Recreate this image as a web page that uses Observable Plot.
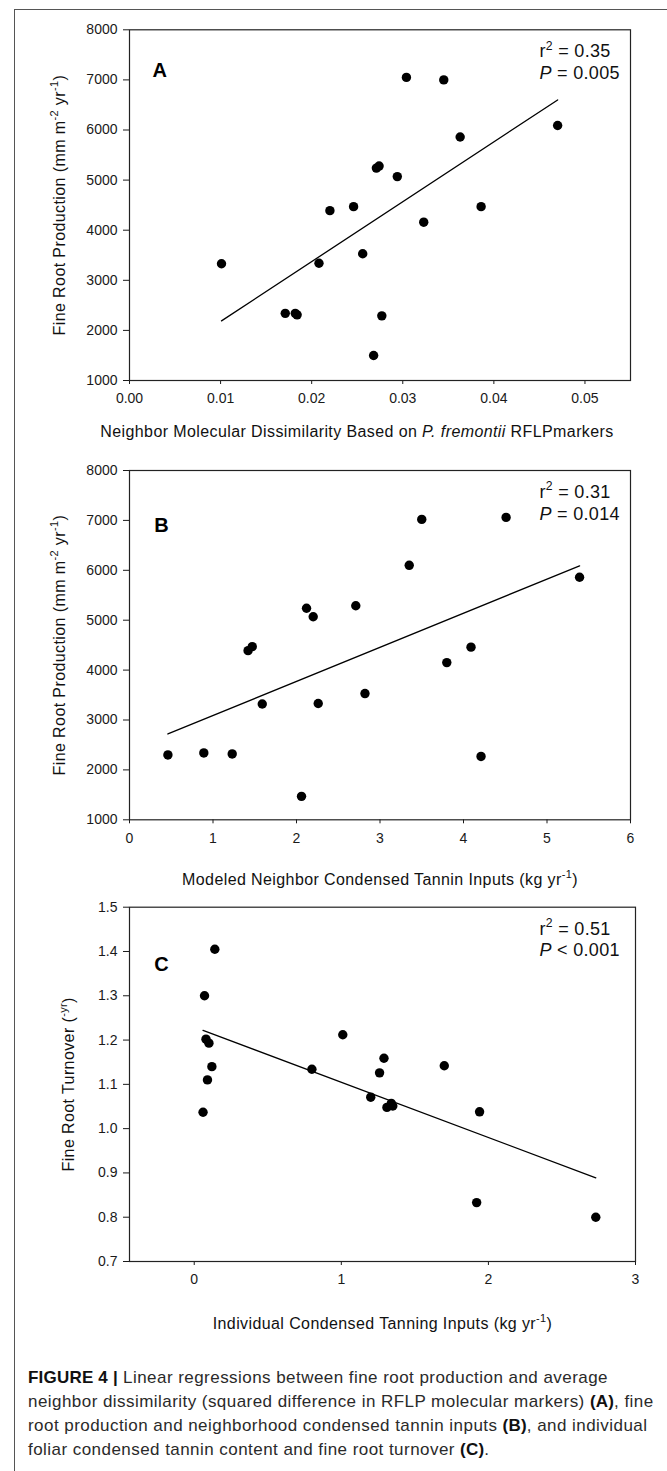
<!DOCTYPE html>
<html>
<head>
<meta charset="utf-8">
<script src="https://cdn.jsdelivr.net/npm/d3@7"></script>
<script src="https://cdn.jsdelivr.net/npm/@observablehq/plot@0.6"></script>
<style>
  body { margin: 0; background: #fff; font-family: "Liberation Sans", Arial, sans-serif; }
  #page { position: relative; width: 667px; height: 1471px; overflow: hidden; background: #fff; }
  #border { position: absolute; left: 14px; top: 9px; width: 720px; height: 1520px;
            border-left: 1.5px solid #555; border-top: 1.5px solid #555; }
  .panel { position: absolute; left: 0; }
  .panel svg { display: block; overflow: visible; }
  #caption { position: absolute; left: 28px; top: 1366px; font-size: 17px; line-height: 24px;
             letter-spacing: 0.45px; color: #2a2a2a; white-space: nowrap; }
  #caption b { color: #111; letter-spacing: 0.2px; }
</style>
</head>
<body>
<div id="page">
  <div id="border"></div>
  <div id="pA" class="panel" style="top:0px"></div>
  <div id="pB" class="panel" style="top:450px"></div>
  <div id="pC" class="panel" style="top:895px"></div>
  <div id="caption">
    <b>FIGURE 4 |</b> Linear regressions between fine root production and average<br>
    neighbor dissimilarity (squared difference in RFLP molecular markers) <b>(A)</b>, fine<br>
    root production and neighborhood condensed tannin inputs <b>(B)</b>, and individual<br>
    foliar condensed tannin content and fine root turnover <b>(C)</b>.
  </div>
</div>
<script>
// ---------------- DATA ----------------
// Panel A: neighbor molecular dissimilarity vs fine root production
const dissimA = [0.0304, 0.0345, 0.0470, 0.0363, 0.0271, 0.0274, 0.0294, 0.0220, 0.0246, 0.0323,
                 0.0386, 0.0101, 0.0208, 0.0256, 0.0171, 0.0182, 0.0184, 0.0277, 0.0268];
const prodA   = [7050, 7000, 6090, 5860, 5240, 5280, 5070, 4390, 4470, 4160,
                 4470, 3330, 3340, 3530, 2340, 2340, 2310, 2290, 1500];
const fitA_x = [0.0101, 0.047];
const fitA_y = [2190, 6600];
const ticksA_x = [0, 0.01, 0.02, 0.03, 0.04, 0.05];
const ticksA_y = [1000, 2000, 3000, 4000, 5000, 6000, 7000, 8000];
const statsA = ["0.35", "0.005"];

// Panel B: modeled neighbor condensed tannin inputs vs fine root production
const tanninB = [1.42, 1.47, 1.59, 2.12, 2.20, 2.26, 2.71, 2.82, 3.35, 3.50,
                 4.51, 5.39, 3.80, 4.09, 0.46, 0.89, 1.23, 2.06, 4.21];
const prodB   = [4390, 4470, 3320, 5240, 5070, 3330, 5290, 3530, 6100, 7020,
                 7060, 5860, 4150, 4460, 2300, 2340, 2320, 1470, 2270];
const fitB_x = [0.46, 5.39];
const fitB_y = [2720, 6090];
const ticksB_x = [0, 1, 2, 3, 4, 5, 6];
const ticksB_y = [1000, 2000, 3000, 4000, 5000, 6000, 7000, 8000];
const statsB = ["0.31", "0.014"];

// Panel C: individual condensed tannin inputs vs fine root turnover
const tanninC = [0.14, 0.07, 0.08, 0.10, 0.12, 0.09, 0.06, 0.80, 1.01, 1.20,
                 1.26, 1.29, 1.31, 1.34, 1.35, 1.70, 1.94, 1.92, 2.73];
const turnC   = [1.405, 1.300, 1.202, 1.193, 1.140, 1.110, 1.037, 1.134, 1.212, 1.071,
                 1.126, 1.159, 1.048, 1.057, 1.051, 1.142, 1.038, 0.833, 0.800];
const fitC_x = [0.06, 2.73];
const fitC_y = [1.222, 0.889];
const ticksC_x = [0, 1, 2, 3];
const ticksC_y = [0.7, 0.8, 0.9, 1.0, 1.1, 1.2, 1.3, 1.4, 1.5];
const statsC = ["0.51", "< 0.001"];

// ---------------- RICH TEXT ----------------
function setRich(el, spec) {
  const segs = spec.segs;
  const fs = parseFloat(el.getAttribute("font-size") || el.parentNode.getAttribute("font-size") || 14);
  while (el.firstChild) el.removeChild(el.firstChild);
  if (spec.ls) el.setAttribute("letter-spacing", spec.ls);
  let shift = 0;
  for (const s of segs) {
    const t = document.createElementNS("http://www.w3.org/2000/svg", "tspan");
    const target = s.sup ? -0.42 * fs : 0;
    if (target !== shift) { t.setAttribute("dy", target - shift); shift = target; }
    if (s.sup) t.setAttribute("font-size", 0.68 * fs);
    if (s.it) t.setAttribute("font-style", "italic");
    if (s.b) t.setAttribute("font-weight", "bold");
    t.textContent = s.t;
    el.appendChild(t);
  }
}
function applyRich(svg, map) {
  svg.querySelectorAll("text").forEach(el => {
    const k = el.textContent;
    if (map[k]) setRich(el, map[k]);
  });
}

const FONT = "Liberation Sans, Arial, sans-serif";

function panel(o) {
  const pts = o.xs.map((x, i) => ({x, y: o.ys[i]}));
  const fit = o.fx.map((x, i) => ({x, y: o.fy[i]}));
  const keyX = "XLABEL", keyY = "YLABEL", keyR = "R2LABEL", keyP = "PLABEL";
  const svg = Plot.plot({
    width: 667,
    height: o.height,
    marginTop: o.mt, marginBottom: o.mb, marginLeft: 129, marginRight: o.mr,
    style: {fontFamily: FONT, background: "transparent", color: "#1a1a1a", overflow: "visible"},
    x: {domain: o.xDomain},
    y: {domain: o.yDomain},
    marks: [
      Plot.axisX({ticks: o.xTicks, tickFormat: o.xFmt, tickSize: 4, tickPadding: 9, fontSize: 14, label: null}),
      Plot.axisY({ticks: o.yTicks, tickFormat: o.yFmt, tickSize: 6, tickPadding: 6, fontSize: 14, label: null}),
      Plot.frame({stroke: "#222", strokeWidth: 1.2}),
      Plot.line(fit, {x: "x", y: "y", stroke: "#000", strokeWidth: 1.3}),
      Plot.dot(pts, {x: "x", y: "y", r: 4.7, fill: "#000", stroke: "none"}),
      Plot.text([o.letter], {text: d => d, frameAnchor: "top-left", dx: o.letterDx, dy: o.letterDy,
        textAnchor: "start", lineAnchor: "bottom", fontSize: 20, fontWeight: "bold", fill: "#000"}),
      Plot.text([keyR], {text: d => d, frameAnchor: "top-left", dx: 410, dy: 27.4,
        textAnchor: "start", lineAnchor: "bottom", fontSize: 18, fill: "#111"}),
      Plot.text([keyP], {text: d => d, frameAnchor: "top-left", dx: 410, dy: 49,
        textAnchor: "start", lineAnchor: "bottom", fontSize: 18, fill: "#111"}),
      Plot.text([keyX], {text: d => d, frameAnchor: "bottom", dx: o.xlDx, dy: o.xlDy,
        textAnchor: "middle", lineAnchor: "bottom", fontSize: 16, fill: "#111"}),
      Plot.text([keyY], {text: d => d, frameAnchor: "left", dx: o.ylDx, rotate: -90,
        textAnchor: "middle", lineAnchor: "bottom", fontSize: 16, fill: "#111"})
    ]
  });
  const map = {};
  map[keyX] = {segs: o.xlabel, ls: 0.4};
  map[keyY] = {segs: o.ylabel, ls: 0.4};
  map[keyR] = {segs: [{t: "r"}, {t: "2", sup: true}, {t: " = " + o.stats[0]}], ls: 0.3};
  map[keyP] = {segs: [{t: "P", it: true}, {t: (o.stats[1].startsWith("<") ? " " : " = ") + o.stats[1]}], ls: 0.3};
  applyRich(svg, map);
  document.getElementById(o.el).appendChild(svg);
}

const prodLabel = [{t: "Fine Root Production (mm m"}, {t: "-2", sup: true}, {t: " yr"}, {t: "-1", sup: true}, {t: ")"}];

panel({
  el: "pA", height: 450, mt: 29.3, mb: 70, mr: 37,
  xDomain: [0, 0.055], yDomain: [1000, 8000],
  xTicks: ticksA_x, yTicks: ticksA_y, xFmt: d => d.toFixed(2), yFmt: d => String(d),
  xs: dissimA, ys: prodA, fx: fitA_x, fy: fitA_y,
  letter: "A", letterDx: 23, letterDy: 46.7, stats: statsA,
  xlabel: [{t: "Neighbor Molecular Dissimilarity Based on "}, {t: "P. fremontii", it: true}, {t: " RFLPmarkers"}],
  xlDx: -23, xlDy: 56.7,
  ylabel: prodLabel, ylDx: -65
});

panel({
  el: "pB", height: 445, mt: 20, mb: 75.7, mr: 37,
  xDomain: [0, 6], yDomain: [1000, 8000],
  xTicks: ticksB_x, yTicks: ticksB_y, xFmt: d => String(d), yFmt: d => String(d),
  xs: tanninB, ys: prodB, fx: fitB_x, fy: fitB_y,
  letter: "B", letterDx: 24.8, letterDy: 61.7, stats: statsB,
  xlabel: [{t: "Modeled Neighbor Condensed Tannin Inputs (kg yr"}, {t: "-1", sup: true}, {t: ")"}],
  xlDx: 0, xlDy: 64.7,
  ylabel: prodLabel, ylDx: -65
});

panel({
  el: "pC", height: 450, mt: 11.7, mb: 84, mr: 32,
  xDomain: [-0.44, 3], yDomain: [0.7, 1.5],
  xTicks: ticksC_x, yTicks: ticksC_y, xFmt: d => String(d), yFmt: d => d.toFixed(1),
  xs: tanninC, ys: turnC, fx: fitC_x, fy: fitC_y,
  letter: "C", letterDx: 24.8, letterDy: 64, stats: statsC,
  xlabel: [{t: "Individual Condensed Tanning Inputs (kg yr"}, {t: "-1", sup: true}, {t: ")"}],
  xlDx: 0, xlDy: 67,
  ylabel: [{t: "Fine Root Turnover ("}, {t: "-yr", sup: true}, {t: ")"}], ylDx: -55.5
});
</script>
</body>
</html>
